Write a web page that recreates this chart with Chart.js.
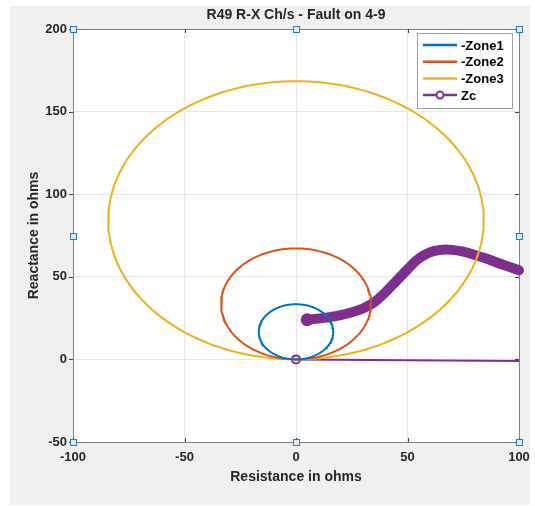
<!DOCTYPE html>
<html>
<head>
<meta charset="utf-8">
<script src="https://cdn.jsdelivr.net/npm/chart.js@4.4.0/dist/chart.umd.min.js"></script>
<style>
  html, body { margin: 0; padding: 0; background: #fff; }
</style>
</head>
<body>
<canvas id="rxChart" width="535" height="506"></canvas>
<script>
const chartTitle = 'R49 R-X Ch/s - Fault on 4-9';
const xTitle = 'Resistance in ohms';
const yTitle = 'Reactance in ohms';
const xTicks = [-100, -50, 0, 50, 100];
const yTicks = [-50, 0, 50, 100, 150, 200];

// mho circles: centre (R, X) and radius, in ohms
const zoneLabels = ['-Zone1', '-Zone2', '-Zone3'];
const zoneCentreR = [0, 0, 0];
const zoneCentreX = [16.7, 33.6, 84.2];
const zoneRadius = [16.7, 33.6, 84.2];
const zoneColors = ['#0072BD', '#D95319', '#EDB120'];

// apparent impedance Zc during the fault
const zcLabel = 'Zc';
const zcR = [5, 10, 15, 20, 25, 30, 35, 40, 45, 50, 55, 60, 65, 70, 75, 80, 85, 90, 95, 100];
const zcX = [24, 24.7, 25.6, 26.8, 28.5, 30.8, 34.5, 40.5, 47.5, 54.5, 61, 64.8, 66.3, 66.3, 65.2, 63.3, 61.2, 58.7, 56.3, 54];
// the jump out of the origin before the fault
const zcJumpR = [0, 100];
const zcJumpX = [0, -1];
const zcColor = '#7E2F8E';

const FONT = '"Liberation Sans", Arial, Helvetica, sans-serif';

function circlePoints(cr, cx, r) {
    const pts = [];
    for (let a = 0; a <= 360; a += 2) {
        const t = a * Math.PI / 180;
        pts.push({ x: cr + r * Math.sin(t), y: cx - r * Math.cos(t) });
    }
    return pts;
}

const datasets = zoneLabels.map((lbl, i) => ({
    label: lbl,
    data: circlePoints(zoneCentreR[i], zoneCentreX[i], zoneRadius[i]),
    borderColor: zoneColors[i],
    borderWidth: 2,
    pointRadius: 0,
    showLine: true,
    fill: false
}));

datasets.push({
    label: zcLabel,
    data: zcJumpR.map((r, i) => ({ x: r, y: zcJumpX[i] })),
    borderColor: zcColor,
    borderWidth: 2,
    pointRadius: [4, 0],
    pointBorderWidth: 2,
    pointBorderColor: zcColor,
    pointBackgroundColor: 'rgba(0,0,0,0)',
    showLine: true,
    clip: false
});

datasets.push({
    label: zcLabel + ' trajectory',
    data: zcR.map((r, i) => ({ x: r, y: zcX[i] })),
    borderColor: zcColor,
    borderWidth: 10,
    borderCapStyle: 'round',
    borderJoinStyle: 'round',
    tension: 0.35,
    pointRadius: zcR.map((r, i) => i === 0 ? 6.5 : 0),
    pointBackgroundColor: zcColor,
    pointBorderWidth: 0,
    showLine: true,
    clip: false
});

// figure background, axes box, ticks, legend, texts (MATLAB look)
const figurePlugin = {
    id: 'figure',
    beforeDraw(chart) {
        const ctx = chart.ctx;
        const a = chart.chartArea;
        ctx.save();
        ctx.fillStyle = '#ffffff';
        ctx.fillRect(0, 0, chart.width, chart.height);
        ctx.fillStyle = '#f0f0f0';
        ctx.fillRect(10, 6, 520, 499);
        ctx.fillStyle = '#ffffff';
        ctx.fillRect(a.left, a.top, a.right - a.left, a.bottom - a.top);
        ctx.restore();
    },
    beforeDatasetsDraw(chart) {
        const ctx = chart.ctx;
        const a = chart.chartArea;
        const xs = chart.scales.x, ys = chart.scales.y;
        ctx.save();
        ctx.strokeStyle = '#808080';
        ctx.lineWidth = 1;
        ctx.strokeRect(Math.round(a.left) + 0.5, Math.round(a.top) + 0.5,
            Math.round(a.right - a.left), Math.round(a.bottom - a.top));
        ctx.strokeStyle = '#404040';
        ctx.beginPath();
        xTicks.forEach(v => {
            const px = Math.round(xs.getPixelForValue(v)) + 0.5;
            ctx.moveTo(px, a.top); ctx.lineTo(px, a.top + 4);
            ctx.moveTo(px, a.bottom); ctx.lineTo(px, a.bottom - 4);
        });
        yTicks.forEach(v => {
            const py = Math.round(ys.getPixelForValue(v)) + 0.5;
            ctx.moveTo(a.left - 4, py); ctx.lineTo(a.left, py);
            ctx.moveTo(a.right, py); ctx.lineTo(a.right - 4, py);
        });
        ctx.stroke();
        ctx.restore();
    },
    afterDraw(chart) {
        const ctx = chart.ctx;
        const a = chart.chartArea;
        const midX = (a.left + a.right) / 2;
        const midY = (a.top + a.bottom) / 2;
        ctx.save();

        // titles
        ctx.fillStyle = '#262626';
        ctx.textAlign = 'center';
        ctx.textBaseline = 'middle';
        ctx.font = 'bold 14px ' + FONT;
        ctx.fillText(chartTitle, midX, 15);
        ctx.fillText(xTitle, midX, 477);
        ctx.save();
        ctx.translate(34, midY);
        ctx.rotate(-Math.PI / 2);
        ctx.fillText(yTitle, 0, 0);
        ctx.restore();

        // legend
        const lx = 417, ly = 33, lw = 95, lh = 75;
        ctx.fillStyle = '#ffffff';
        ctx.fillRect(lx, ly, lw, lh);
        ctx.strokeStyle = '#a0a0a0';
        ctx.lineWidth = 1;
        ctx.strokeRect(lx + 0.5, ly + 0.5, lw, lh);
        const items = zoneLabels.map((l, i) => ({ label: l, color: zoneColors[i], marker: false }));
        items.push({ label: zcLabel, color: zcColor, marker: true });
        ctx.font = 'bold 13px ' + FONT;
        ctx.textAlign = 'left';
        items.forEach((it, i) => {
            const y = 45 + i * 16.7;
            ctx.strokeStyle = it.color;
            ctx.lineWidth = 2.5;
            ctx.beginPath();
            ctx.moveTo(423, y); ctx.lineTo(457, y);
            ctx.stroke();
            if (it.marker) {
                ctx.lineWidth = 2;
                ctx.fillStyle = '#ffffff';
                ctx.beginPath();
                ctx.arc(440, y, 3.5, 0, Math.PI * 2);
                ctx.fill();
                ctx.stroke();
            }
            ctx.fillStyle = '#000000';
            ctx.fillText(it.label, 461, y + 1);
        });

        // selection handles
        const handles = [[a.left, a.top], [midX, a.top], [a.right, a.top],
            [a.left, midY], [a.right, midY],
            [a.left, a.bottom], [midX, a.bottom], [a.right, a.bottom]];
        ctx.lineWidth = 1;
        handles.forEach(([hx, hy]) => {
            const x0 = Math.round(hx) - 3 + 0.5, y0 = Math.round(hy) - 3 + 0.5;
            ctx.fillStyle = '#dcebf8';
            ctx.fillRect(x0, y0, 6, 6);
            ctx.strokeStyle = '#2e78b8';
            ctx.strokeRect(x0, y0, 6, 6);
        });
        ctx.restore();
    }
};

const ctx = document.getElementById('rxChart').getContext('2d');
const rxChart = new Chart(ctx, {
    type: 'scatter',
    data: { datasets: datasets },
    options: {
        responsive: false,
        animation: false,
        layout: { padding: { top: 29, right: 16, left: 0, bottom: 0 } },
        plugins: {
            legend: { display: false },
            title: { display: false },
            tooltip: { enabled: false }
        },
        scales: {
            x: {
                type: 'linear',
                min: -100,
                max: 100,
                afterFit: s => { s.height = 64; s.paddingLeft = 0; s.paddingRight = 0; },
                afterBuildTicks: s => { s.ticks = xTicks.map(v => ({ value: v })); },
                grid: { color: '#e6e6e6', drawTicks: false },
                border: { display: false },
                ticks: {
                    padding: 8,
                    maxRotation: 0,
                    color: '#262626',
                    font: { family: FONT, size: 13, weight: 'bold' }
                }
            },
            y: {
                type: 'linear',
                min: -50,
                max: 200,
                afterFit: s => { s.width = 73; s.paddingTop = 0; s.paddingBottom = 0; },
                afterBuildTicks: s => { s.ticks = yTicks.map(v => ({ value: v })); },
                grid: { color: '#e6e6e6', drawTicks: false },
                border: { display: false },
                ticks: {
                    padding: 6,
                    color: '#262626',
                    font: { family: FONT, size: 13, weight: 'bold' }
                }
            }
        }
    },
    plugins: [figurePlugin]
});
</script>
</body>
</html>
